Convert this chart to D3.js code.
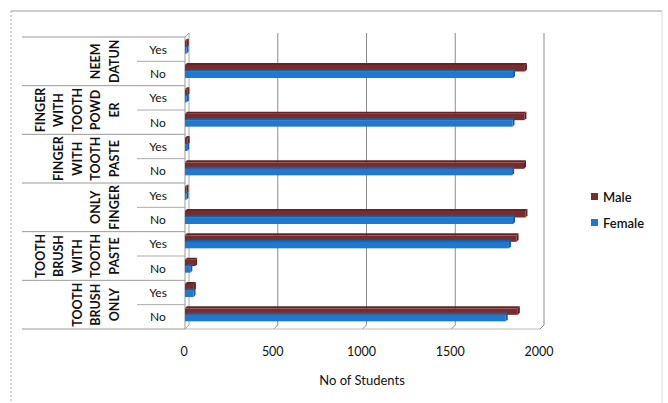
<!DOCTYPE html>
<html><head><meta charset="utf-8">
<script src="https://cdn.jsdelivr.net/npm/d3@7"></script>
<style>body{margin:0;background:#fff}svg{display:block;font-family:Lato,"Open Sans",sans-serif}</style>
</head><body>
<svg id="c" width="668" height="403"></svg>
<script>
// data (top to bottom)
const groups = [
  ["NEEM","DATUN"],
  ["FINGER","WITH","TOOTH","POWD","ER"],
  ["FINGER","WITH","TOOTH","PASTE"],
  ["ONLY","FINGER"],
  ["TOOTH","BRUSH","WITH","TOOTH","PASTE"],
  ["TOOTH","BRUSH","ONLY"]
];
const rowGroup  = [0,0,1,1,2,2,3,3,4,4,5,5];
const rowAnswer = ["Yes","No","Yes","No","Yes","No","Yes","No","Yes","No","Yes","No"];
const maleValues   = [10,1915, 13,1912, 15,1910, 7,1918, 1868,57, 50,1875];
const femaleValues = [7,1848, 10,1845, 12,1843, 7,1848, 1825,30, 48,1807];
const xTicks = [0,500,1000,1500,2000];
const seriesNames = ["Male","Female"];
const seriesColors = ["#7A2C2C","#1F78CF"];
const axisTitle = "No of Students";

const svg = d3.select("#c");
const x = d3.scaleLinear().domain([0,2000]).range([185,540]);
const rows = d3.range(rowAnswer.length);
const y = d3.scaleBand().domain(rows).range([37,329]);
const dx = 4, dy = 4; // 3D depth offset

// outer chart border
svg.append("line").attr("x1",11).attr("x2",662).attr("y1",11).attr("y2",11).attr("stroke","#9a9a9a");
svg.append("line").attr("x1",11).attr("x2",11).attr("y1",11).attr("y2",403).attr("stroke","#aaa").attr("stroke-dasharray","2,2");
svg.append("line").attr("x1",662).attr("x2",662).attr("y1",11).attr("y2",403).attr("stroke","#ddd");

// gridlines (back wall) with floor diagonals
xTicks.forEach(t=>{
  const gx = x(t);
  svg.append("path").attr("d",`M${gx+dx},${37-dy}V${329-dy}L${gx},329`)
    .attr("fill","none").attr("stroke",t===0?"#aaa":"#8c8c8c").attr("stroke-width",1);
});
// floor line
svg.append("line").attr("x1",x(0)).attr("x2",x(2000)).attr("y1",329).attr("y2",329).attr("stroke","#bbb");
// left wall
svg.append("path").attr("d",`M${x(0)},37V329`).attr("stroke","#999").attr("fill","none");
svg.append("path").attr("d",`M${x(0)},37L${x(0)+dx},${37-dy}`).attr("stroke","#999").attr("fill","none");

// category table lines
svg.append("line").attr("x1",22).attr("x2",x(0)).attr("y1",37).attr("y2",37).attr("stroke","#999");
rows.forEach(i=>{
  const yy = y(i)+y.bandwidth();
  const groupEnd = (i===rows.length-1) || rowGroup[i]!==rowGroup[i+1];
  svg.append("line").attr("x1",groupEnd?22:137).attr("x2",x(0)).attr("y1",yy).attr("y2",yy)
    .attr("stroke",groupEnd?"#999":"#aaa");
});

// answers
svg.append("g").selectAll("text").data(rows).join("text")
  .attr("x",158).attr("y",i=>y(i)+y.bandwidth()/2+4.5)
  .attr("text-anchor","middle").attr("font-size",12).attr("fill","#111")
  .text(i=>rowAnswer[i]);

// group labels (rotated, multi-line)
groups.forEach((lines,g)=>{
  const idx = rows.filter(i=>rowGroup[i]===g);
  const cy = (y(idx[0]) + y(idx[idx.length-1]) + y.bandwidth())/2;
  const n = lines.length, sp = 18.5, lastX = 114;
  lines.forEach((ln,k)=>{
    const cx = lastX - (n-1-k)*sp;
    svg.append("text").attr("transform",`translate(${cx+4.5},${cy}) rotate(-90)`)
      .attr("text-anchor","middle").attr("font-size",12.5).attr("font-weight","bold").attr("fill","#111")
      .text(ln);
  });
});

// bars
const bh = 6.5;
const series = [maleValues, femaleValues];
series.forEach((vals,s)=>{
  const col = d3.color(seriesColors[s]);
  const g = svg.append("g");
  rows.forEach(i=>{
    const c = y(i)+y.bandwidth()/2;
    const yy = s===0 ? c-8.5 : c-2;
    const w = Math.max(x(vals[i])-x(0),1.5);
    g.append("path").attr("d",`M${x(0)},${yy}l2,-2h${w}l-2,2z`).attr("fill",col.darker(0.6));
    g.append("path").attr("d",`M${x(0)+w},${yy}l2,-2v${bh}l-2,2z`).attr("fill",col.darker(0.8));
    g.append("rect").attr("x",x(0)).attr("y",yy).attr("width",w).attr("height",bh).attr("fill",seriesColors[s]);
  });
});

// x tick labels
svg.append("g").selectAll("text").data(xTicks).join("text")
  .attr("x",d=>x(d)-1).attr("y",356).attr("text-anchor","middle")
  .attr("font-size",12.5).attr("fill","#111").text(d=>d);
svg.append("text").attr("x",362).attr("y",385).attr("text-anchor","middle")
  .attr("font-size",13).attr("fill","#111").text(axisTitle);

// legend
seriesNames.forEach((n,i)=>{
  const ly = 197 + i*26;
  svg.append("rect").attr("x",591).attr("y",ly-4).attr("width",7).attr("height",7).attr("fill",seriesColors[i]);
  svg.append("text").attr("x",603).attr("y",ly+4.5).attr("font-size",13).attr("font-weight","600").attr("fill","#111").text(n);
});
</script>
</body></html>
